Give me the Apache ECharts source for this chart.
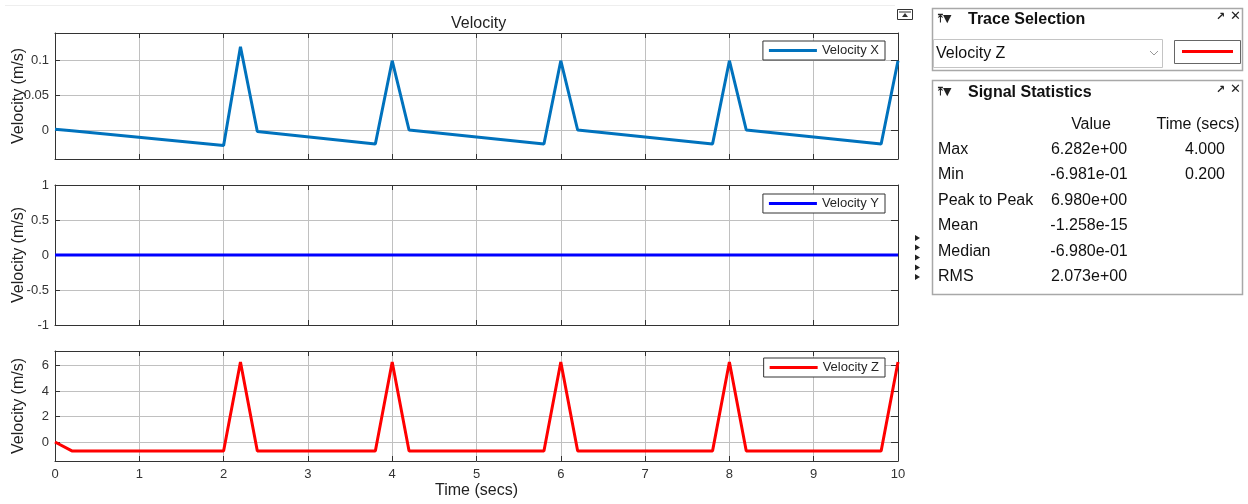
<!DOCTYPE html>
<html>
<head>
<meta charset="utf-8">
<script src="https://cdn.jsdelivr.net/npm/echarts@6/dist/echarts.min.js"></script>
<style>
  html, body { margin: 0; padding: 0; background: #fff; }
  #chart { width: 1248px; height: 504px; }
</style>
</head>
<body>
<div id="chart"></div>
<script>
// sample times (secs) shared by the three traces
const times = [0, 0.2, 2.0, 2.2, 2.4, 3.8, 4.0, 4.2, 5.8, 6.0, 6.2, 7.8, 8.0, 8.2, 9.8, 10];
const velX = [0.001, -0.001, -0.022, 0.119, -0.002, -0.020, 0.099, 0.000, -0.020, 0.099, 0.000, -0.020, 0.099, 0.000, -0.020, 0.099];
const velY = [0, 0, 0, 0, 0, 0, 0, 0, 0, 0, 0, 0, 0, 0, 0, 0];
const velZ = [0, -0.698, -0.698, 6.282, -0.698, -0.698, 6.282, -0.698, -0.698, 6.282, -0.698, -0.698, 6.282, -0.698, -0.698, 6.282];

const seriesNames = ['Velocity X', 'Velocity Y', 'Velocity Z'];
const yTicksX = [0, 0.05, 0.1];
const yTicksY = [-1, -0.5, 0, 0.5, 1];
const yTicksZ = [0, 2, 4, 6];
const yRangeX = [-0.0414, 0.1386];
const yRangeY = [-1, 1];
const yRangeZ = [-1.49, 7.15];

// signal statistics table
const statLabels = ['Max', 'Min', 'Peak to Peak', 'Mean', 'Median', 'RMS'];
const statValues = ['6.282e+00', '-6.981e-01', '6.980e+00', '-1.258e-15', '-6.980e-01', '2.073e+00'];
const statTimes = ['4.000', '0.200', '', '', '', ''];

const FONT = '"Liberation Sans", Arial, sans-serif';
const AXIS_COLOR = '#333';
const GRID_COLOR = '#c0c0c0';

const panels = [
    { name: seriesNames[0], data: velX, color: '#0072BD', ticks: yTicksX, range: yRangeX, top: 33, height: 126, legendTop: 41 },
    { name: seriesNames[1], data: velY, color: '#0000FF', ticks: yTicksY, range: yRangeY, top: 185, height: 140, legendTop: 194 },
    { name: seriesNames[2], data: velZ, color: '#FF0000', ticks: yTicksZ, range: yRangeZ, top: 351, height: 110, legendTop: 358 }
];

const grid = [], xAxis = [], yAxis = [], series = [], legend = [];

panels.forEach((p, i) => {
    const last = i === panels.length - 1;
    grid.push({ left: 55, width: 843, top: p.top, height: p.height, containLabel: false, outerBoundsMode: 'none' });

    // bottom + top x axes (MATLAB-style box with ticks all round)
    xAxis.push({
        gridIndex: i, type: 'value', min: 0, max: 10, interval: 1, position: 'bottom',
        axisLine: { show: true, onZero: false, lineStyle: { color: AXIS_COLOR } },
        axisTick: { show: true, inside: true, length: 5, lineStyle: { color: AXIS_COLOR } },
        axisLabel: { show: last, color: AXIS_COLOR, fontSize: 13, fontFamily: FONT, margin: 7 },
        splitLine: { show: true, lineStyle: { color: GRID_COLOR } },
        name: last ? 'Time (secs)' : '',
        nameLocation: 'middle', nameGap: 22, nameMoveOverlap: false,
        nameTextStyle: { color: '#222', fontSize: 16, fontFamily: FONT }
    });
    xAxis.push({
        gridIndex: i, type: 'value', min: 0, max: 10, interval: 1, position: 'top',
        axisLine: { show: true, onZero: false, lineStyle: { color: AXIS_COLOR } },
        axisTick: { show: true, inside: true, length: 5, lineStyle: { color: AXIS_COLOR } },
        axisLabel: { show: false },
        splitLine: { show: false }
    });

    yAxis.push({
        gridIndex: i, type: 'value', min: p.range[0], max: p.range[1], position: 'left',
        axisLine: { show: true, onZero: false, lineStyle: { color: AXIS_COLOR } },
        axisTick: { show: true, inside: true, length: 5, customValues: p.ticks, lineStyle: { color: AXIS_COLOR } },
        axisLabel: { show: true, customValues: p.ticks, color: AXIS_COLOR, fontSize: 13, fontFamily: FONT, margin: 6 },
        splitLine: { show: true, lineStyle: { color: GRID_COLOR } },
        name: 'Velocity (m/s)', nameLocation: 'middle', nameRotate: 90, nameGap: 28, nameMoveOverlap: false,
        nameTextStyle: { color: '#222', fontSize: 16, fontFamily: FONT }
    });
    yAxis.push({
        gridIndex: i, type: 'value', min: p.range[0], max: p.range[1], position: 'right',
        axisLine: { show: true, onZero: false, lineStyle: { color: AXIS_COLOR } },
        axisTick: { show: true, inside: true, length: 7, customValues: p.ticks, lineStyle: { color: AXIS_COLOR } },
        axisLabel: { show: false },
        splitLine: { show: false }
    });

    series.push({
        name: p.name, type: 'line',
        xAxisIndex: i * 2, yAxisIndex: i * 2,
        data: times.map((t, k) => [t, p.data[k]]),
        symbol: 'none', showSymbol: false,
        lineStyle: { width: 3, color: p.color },
        itemStyle: { color: p.color },
        animation: false
    });

    legend.push({
        data: [p.name], right: 363, top: p.legendTop,
        icon: 'rect', itemWidth: 48, itemHeight: 3, itemGap: 5,
        padding: [3, 6], borderColor: '#333', borderWidth: 1, borderRadius: 0,
        backgroundColor: '#fff',
        textStyle: { color: '#262626', fontSize: 13, fontFamily: FONT }
    });
});

// right-hand panels (Trace Selection / Signal Statistics) and small widgets
const graphic = [
    { type: 'line', shape: { x1: 5, y1: 5.5, x2: 895, y2: 5.5 }, style: { stroke: '#eeeeee', lineWidth: 1 } },
    // undock icon above the plot
    { type: 'rect', shape: { x: 897.5, y: 9.5, width: 15, height: 10 }, style: { fill: '#fff', stroke: '#333', lineWidth: 1 } },
    { type: 'line', shape: { x1: 899, y1: 12, x2: 911, y2: 12 }, style: { stroke: '#333', lineWidth: 1 } },
    { type: 'polygon', shape: { points: [[905, 13], [902, 17], [908, 17]] }, style: { fill: '#333' } },

    // Trace Selection panel
    { type: 'rect', shape: { x: 932.5, y: 8.5, width: 310, height: 62 }, style: { fill: '#fff', stroke: '#a8a8a8', lineWidth: 1.5 } },
    { type: 'text', x: 938, y: 19, style: { text: '⤒▼', fill: '#222', font: 'bold 11px "DejaVu Sans"', verticalAlign: 'middle' } },
    { type: 'text', x: 968, y: 20, style: { text: 'Trace Selection', fill: '#111', font: 'bold 16px ' + FONT, verticalAlign: 'middle' } },
    { type: 'text', x: 1216, y: 17, style: { text: '↗', fill: '#222', font: 'bold 11px "DejaVu Sans"', verticalAlign: 'middle' } },
    { type: 'text', x: 1230, y: 17, style: { text: '✕', fill: '#222', font: 'bold 13px "DejaVu Sans"', verticalAlign: 'middle' } },
    { type: 'rect', shape: { x: 933.5, y: 39.5, width: 229, height: 28 }, style: { fill: '#fff', stroke: '#c4c4c4', lineWidth: 1 } },
    { type: 'text', x: 936, y: 54, style: { text: seriesNames[2], fill: '#111', font: '16px ' + FONT, verticalAlign: 'middle' } },
    { type: 'polyline', shape: { points: [[1150, 51], [1154, 55], [1158, 51]] }, style: { stroke: '#999', lineWidth: 1, fill: null } },
    { type: 'rect', shape: { x: 1174.5, y: 40.5, width: 66, height: 23 }, style: { fill: '#fff', stroke: '#666', lineWidth: 1 } },
    { type: 'line', shape: { x1: 1182, y1: 51.5, x2: 1233, y2: 51.5 }, style: { stroke: panels[2].color, lineWidth: 3 } },

    // Signal Statistics panel
    { type: 'rect', shape: { x: 932.5, y: 80.5, width: 310, height: 214 }, style: { fill: '#fff', stroke: '#a8a8a8', lineWidth: 1.5 } },
    { type: 'text', x: 938, y: 92, style: { text: '⤒▼', fill: '#222', font: 'bold 11px "DejaVu Sans"', verticalAlign: 'middle' } },
    { type: 'text', x: 968, y: 93, style: { text: 'Signal Statistics', fill: '#111', font: 'bold 16px ' + FONT, verticalAlign: 'middle' } },
    { type: 'text', x: 1216, y: 90, style: { text: '↗', fill: '#222', font: 'bold 11px "DejaVu Sans"', verticalAlign: 'middle' } },
    { type: 'text', x: 1230, y: 90, style: { text: '✕', fill: '#222', font: 'bold 13px "DejaVu Sans"', verticalAlign: 'middle' } },
    { type: 'text', x: 1091, y: 125, style: { text: 'Value', fill: '#111', font: '16px ' + FONT, align: 'center', verticalAlign: 'middle' } },
    { type: 'text', x: 1198, y: 125, style: { text: 'Time (secs)', fill: '#111', font: '16px ' + FONT, align: 'center', verticalAlign: 'middle' } }
];

const rowY = [150, 175, 200.5, 226, 251.5, 277];
statLabels.forEach((lab, k) => {
    graphic.push({ type: 'text', x: 938, y: rowY[k], style: { text: lab, fill: '#111', font: '16px ' + FONT, verticalAlign: 'middle' } });
    graphic.push({ type: 'text', x: 1089, y: rowY[k], style: { text: statValues[k], fill: '#111', font: '16px ' + FONT, align: 'center', verticalAlign: 'middle' } });
    if (statTimes[k]) {
        graphic.push({ type: 'text', x: 1205, y: rowY[k], style: { text: statTimes[k], fill: '#111', font: '16px ' + FONT, align: 'center', verticalAlign: 'middle' } });
    }
});

// little stacked arrows between plots and panels
[238, 247.5, 257.5, 267.5, 277].forEach(y => {
    graphic.push({ type: 'polygon', shape: { points: [[915, y - 3], [920, y], [915, y + 3]] }, style: { fill: '#222' } });
});

const chart = echarts.init(document.getElementById('chart'));
chart.setOption({
    animation: false,
    backgroundColor: '#fff',
    title: {
        text: 'Velocity', left: 446, top: 11,
        textStyle: { color: '#222', fontSize: 16, fontWeight: 'normal', fontFamily: FONT }
    },
    grid, xAxis, yAxis, series, legend, graphic
});
</script>
</body>
</html>
